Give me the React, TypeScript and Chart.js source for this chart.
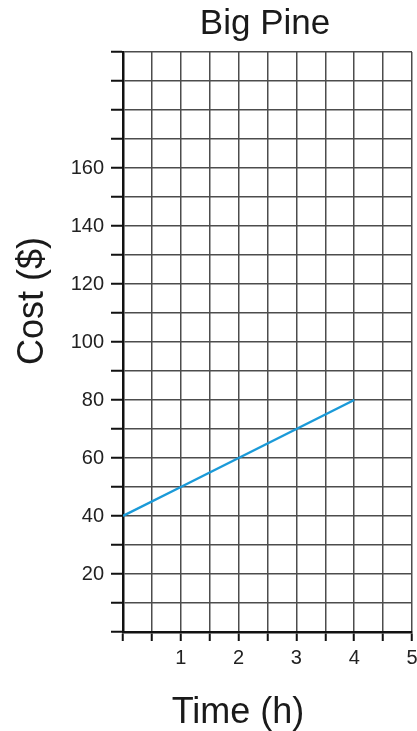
import React, { useEffect, useRef } from "react";
import { Chart, registerables } from "chart.js";

Chart.register(...registerables);

const chartTitle = "Big Pine";
const xAxisTitle = "Time (h)";
const yAxisTitle = "Cost ($)";
const timeHours = [0, 1, 2, 3, 4];
const costDollars = [40, 50, 60, 70, 80];
const yTickLabels = [20, 40, 60, 80, 100, 120, 140, 160];
const xTickLabels = [1, 2, 3, 4, 5];

const FONT = "'Liberation Sans', Arial, sans-serif";

const titlesPlugin = {
  id: "customTitles",
  afterDraw(chart: any) {
    const ctx = chart.ctx as CanvasRenderingContext2D;
    ctx.save();
    ctx.fillStyle = "#1a1a1a";
    ctx.textAlign = "center";
    ctx.textBaseline = "alphabetic";
    ctx.font = `35px ${FONT}`;
    ctx.fillText(chartTitle, 265, 34);
    ctx.font = `36px ${FONT}`;
    ctx.fillText(xAxisTitle, 238, 723);
    ctx.translate(43, 301);
    ctx.rotate(-Math.PI / 2);
    ctx.fillText(yAxisTitle, 0, 0);
    ctx.restore();
  },
};

export default function App() {
  const canvasRef = useRef<HTMLCanvasElement | null>(null);

  useEffect(() => {
    if (!canvasRef.current) return;
    const chart = new Chart(canvasRef.current, {
      type: "line",
      data: {
        datasets: [
          {
            data: timeHours.map((t, i) => ({ x: t, y: costDollars[i] })),
            borderColor: "#1b9ad8",
            borderWidth: 2.5,
            pointRadius: 0,
            fill: false,
            tension: 0,
          },
        ],
      },
      options: {
        animation: false,
        responsive: false,
        maintainAspectRatio: false,
        layout: { padding: { top: 52, right: 5, left: 0, bottom: 0 } },
        plugins: {
          legend: { display: false },
          title: { display: false },
          tooltip: { enabled: false },
        },
        scales: {
          x: {
            type: "linear",
            min: 0,
            max: 5,
            ticks: {
              stepSize: 0.5,
              autoSkip: false,
              maxRotation: 0,
              padding: 5,
              color: "#222",
              font: { family: FONT, size: 20 },
              callback: (v: any) => (xTickLabels.includes(Number(v)) ? String(v) : ""),
            },
            grid: {
              color: "#4d4d4d",
              lineWidth: 1.5,
              tickLength: 9,
              tickColor: "#111",
              tickWidth: 2,
            },
            border: { color: "#111", width: 2.5 },
            afterFit: (scale: any) => {
              scale.height = 99;
              scale.paddingRight = 0;
              scale.paddingLeft = 0;
            },
          },
          y: {
            type: "linear",
            min: 0,
            max: 200,
            ticks: {
              stepSize: 10,
              autoSkip: false,
              padding: 7,
              color: "#222",
              font: { family: FONT, size: 20 },
              callback: (v: any) => (yTickLabels.includes(Number(v)) ? String(v) : ""),
            },
            grid: {
              color: "#4d4d4d",
              lineWidth: 1.5,
              tickLength: 12,
              tickColor: "#111",
              tickWidth: 2,
            },
            border: { color: "#111", width: 2.5 },
            afterFit: (scale: any) => {
              scale.width = 123;
              scale.paddingTop = 0;
              scale.paddingBottom = 0;
            },
          },
        },
      },
      plugins: [titlesPlugin],
    });
    return () => chart.destroy();
  }, []);

  return (
    <div style={{ position: "absolute", left: 0, top: 0, width: 417, height: 731, background: "#fff" }}>
      <canvas ref={canvasRef} width={417} height={731} style={{ width: 417, height: 731, display: "block" }} />
    </div>
  );
}
